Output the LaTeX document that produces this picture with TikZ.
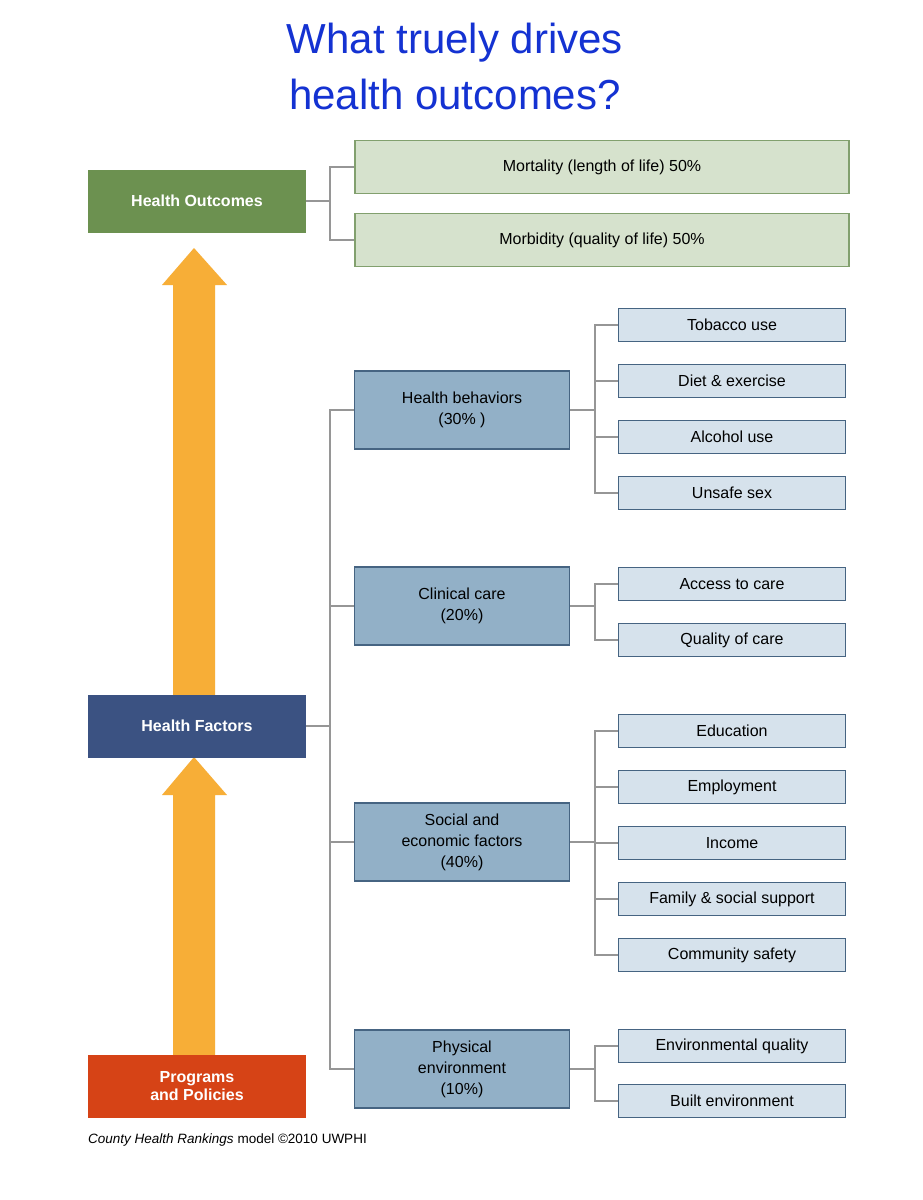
\documentclass[tikz,border=0pt]{standalone}
\usepackage{fontspec}
\setmainfont{Liberation Sans}
\definecolor{titleblue}{RGB}{20,50,210}
\definecolor{hogreen}{RGB}{108,145,80}
\definecolor{lgreen}{RGB}{214,226,205}
\definecolor{greenline}{RGB}{130,160,110}
\definecolor{hfblue}{RGB}{59,82,130}
\definecolor{ppred}{RGB}{214,67,22}
\definecolor{catfill}{RGB}{146,176,199}
\definecolor{catline}{RGB}{70,100,130}
\definecolor{subfill}{RGB}{214,226,236}
\definecolor{arroworange}{RGB}{247,174,55}
\definecolor{conn}{RGB}{150,150,150}
\begin{document}
\begin{tikzpicture}[x=1pt,y=-1pt,
  main/.style={draw=none, minimum width=218pt, minimum height=63pt, text=white,
    font=\fontsize{16}{18}\selectfont\bfseries, align=center},
  outc/.style={draw=greenline, fill=lgreen, line width=1.5pt, minimum width=494pt,
    minimum height=53pt, font=\fontsize{16}{18}\selectfont},
  cat/.style={draw=catline, fill=catfill, line width=1.5pt, minimum width=215pt,
    minimum height=78pt, align=center, font=\fontsize{16}{21}\selectfont},
  sub/.style={draw=catline, fill=subfill, line width=1.5pt, minimum width=227pt,
    minimum height=33pt, font=\fontsize{16}{18}\selectfont},
  link/.style={draw=conn, line width=2.5pt},
  bigarrow/.style={fill=arroworange, draw=none}]
\useasboundingbox (0,0) rectangle (922,1200);
\fill[white] (0,0) rectangle (922,1200);
% title
\node[text=titleblue, font=\fontsize{42}{56}\selectfont, align=center] (title) at (455,66)
  {What truely drives\\health outcomes?};
% arrows
\fill[bigarrow] (173,695) -- (173,285) -- (162,285) -- (194,248) -- (227,285) -- (215,285) -- (215,695) -- cycle;
\fill[bigarrow] (173,1055) -- (173,795) -- (162,795) -- (194,757) -- (227,795) -- (215,795) -- (215,1055) -- cycle;
% main boxes
\node[main, fill=hogreen] (ho) at (197,201) {Health Outcomes};
\node[main, fill=hfblue] (hf) at (197,726) {Health Factors};
\node[main, fill=ppred] (pp) at (197,1086) {Programs\\and Policies};
% outcomes
\node[outc] (mort) at (602,167) {Mortality (length of life) 50\%};
\node[outc] (morb) at (602,240) {Morbidity (quality of life) 50\%};
\coordinate (hoj) at (330,201);
\draw[link] (ho.east) -- (hoj);
\draw[link] (mort.west) -| (hoj) |- (morb.west);
% categories
\node[cat] (hb) at (462,410) {Health behaviors\\(30\% )};
\node[cat] (cc) at (462,606) {Clinical care\\(20\%)};
\node[cat] (se) at (462,842) {Social and\\economic factors\\(40\%)};
\node[cat] (pe) at (462,1069) {Physical\\environment\\(10\%)};
\coordinate (hfj) at (330,726);
\draw[link] (hf.east) -- (hfj);
\draw[link] (hb.west) -| (hfj) |- (pe.west);
\draw[link] (cc.west) -- (cc.west -| hfj);
\draw[link] (se.west) -- (se.west -| hfj);
% sub items
\foreach \n/\y/\t in {tob/325/Tobacco use, diet/381/Diet \& exercise, alc/437/Alcohol use,
  sex/493/Unsafe sex, acc/584/Access to care, qual/640/Quality of care,
  edu/731/Education, emp/787/Employment, inc/843/Income,
  fam/899/Family \& social support, com/955/Community safety,
  env/1046/Environmental quality, blt/1101/Built environment}
  \node[sub] (\n) at (732,\y) {\t};
\foreach \c/\a/\b/\m in {hb/tob/sex/{diet,alc}, cc/acc/qual/{}, se/edu/com/{emp,inc,fam}, pe/env/blt/{}}{
  \coordinate (\c j) at (595,0 |- \c.east);
  \draw[link] (\c.east) -- (\c j);
  \draw[link] (\a.west) -| (\c j) |- (\b.west);
  \foreach \s in \m { \draw[link] (\s.west) -- (\s.west -| \c j); }
}
% caption
\node[anchor=west, font=\fontsize{13.5}{15}\selectfont, inner sep=0pt] (cap) at (88,1140)
  {\textit{County Health Rankings} model ©2010 UWPHI};
\end{tikzpicture}
\end{document}
